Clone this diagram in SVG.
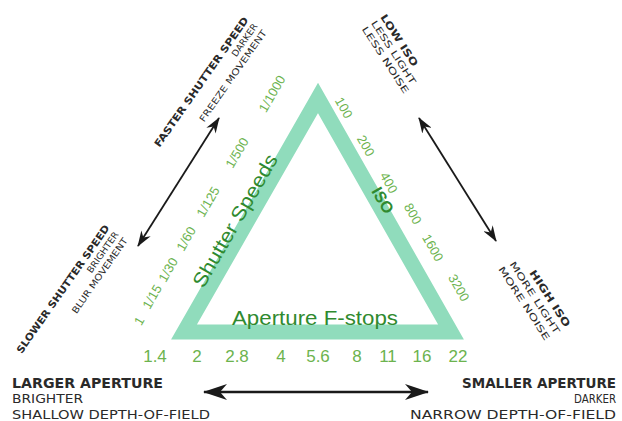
<svg xmlns="http://www.w3.org/2000/svg" width="622" height="421" viewBox="0 0 622 421">
<defs>
<marker id="big" viewBox="0 0 24 16" refX="23" refY="8" markerWidth="24" markerHeight="16" markerUnits="userSpaceOnUse" orient="auto-start-reverse">
<path d="M24,8 L0,0 L7,8 L0,16 Z" fill="#1a1a1a"/>
</marker>
<marker id="small" viewBox="0 0 16 11" refX="15" refY="5.5" markerWidth="16" markerHeight="11" markerUnits="userSpaceOnUse" orient="auto-start-reverse">
<path d="M16,5.5 L0,0 L5,5.5 L0,11 Z" fill="#1a1a1a"/>
</marker>
<style>
.lbl{font-family:"DejaVu Sans Condensed","Liberation Sans Narrow",sans-serif;fill:#2a2a2a;}
.b{font-weight:bold;}
.num{font-family:"Liberation Sans","DejaVu Sans",sans-serif;fill:#6cb34e;}
.ttl{font-family:"Liberation Sans","DejaVu Sans",sans-serif;fill:#2f8a2f;}
.arr{stroke:#1a1a1a;fill:none;}
</style>
</defs>
<rect width="622" height="421" fill="#ffffff"/>

<g id="triangle">
<polygon points="318,98 184,332 451,332" fill="none" stroke="#90dcbc" stroke-width="15" stroke-linejoin="miter"/>
</g>

<g id="connectors">
<line class="arr" x1="204" y1="392" x2="428" y2="392" stroke-width="2.5" marker-start="url(#big)" marker-end="url(#big)"/>
<line class="arr" x1="138" y1="246" x2="219" y2="118" stroke-width="1.8" marker-start="url(#small)" marker-end="url(#small)"/>
<line class="arr" x1="419" y1="118" x2="496" y2="241" stroke-width="1.8" marker-start="url(#small)" marker-end="url(#small)"/>
</g>

<g id="aperture">
<text class="ttl" x="315" y="325" font-size="21" text-anchor="middle" textLength="166" lengthAdjust="spacingAndGlyphs">Aperture F-stops</text>
<g class="num" font-size="17" text-anchor="middle">
<text x="155" y="362">1.4</text>
<text x="197" y="362">2</text>
<text x="237" y="362">2.8</text>
<text x="281" y="362">4</text>
<text x="318" y="362">5.6</text>
<text x="357" y="362">8</text>
<text x="388" y="362">11</text>
<text x="422" y="362">16</text>
<text x="458" y="362">22</text>
</g>
</g>

<g id="shutter">
<text class="ttl" transform="translate(241,224) rotate(-60)" font-size="20" text-anchor="middle" textLength="150" lengthAdjust="spacingAndGlyphs">Shutter Speeds</text>
<g class="num" font-size="13" text-anchor="middle">
<text transform="translate(143,323) rotate(-60)">1</text>
<text transform="translate(156,299) rotate(-60)">1/15</text>
<text transform="translate(172,272) rotate(-60)">1/30</text>
<text transform="translate(190,241) rotate(-60)">1/60</text>
<text transform="translate(212,204) rotate(-60)">1/125</text>
<text transform="translate(241,155) rotate(-60)">1/500</text>
<text transform="translate(276,96) rotate(-60)">1/1000</text>
</g>
</g>

<g id="iso">
<text class="ttl b" transform="translate(378,203) rotate(60)" font-size="16" text-anchor="middle">ISO</text>
<g class="num" font-size="13" text-anchor="middle">
<text transform="translate(340,110) rotate(60)">100</text>
<text transform="translate(362,148) rotate(60)">200</text>
<text transform="translate(385,185) rotate(60)">400</text>
<text transform="translate(409,216) rotate(60)">800</text>
<text transform="translate(429,250) rotate(60)">1600</text>
<text transform="translate(455,290) rotate(60)">3200</text>
</g>
</g>

<g id="faster" class="lbl" transform="translate(249,20) rotate(-55)" text-anchor="end">
<text class="b" x="0" y="0" font-size="10" textLength="156" lengthAdjust="spacingAndGlyphs">FASTER SHUTTER SPEED</text>
<text x="0" y="11" font-size="9" textLength="38" lengthAdjust="spacingAndGlyphs">DARKER</text>
<text x="0" y="22" font-size="9" textLength="110" lengthAdjust="spacingAndGlyphs">FREEZE MOVEMENT</text>
</g>

<g id="slower" class="lbl" transform="translate(110,228) rotate(-55)" text-anchor="end">
<text class="b" x="0" y="0" font-size="10" textLength="154" lengthAdjust="spacingAndGlyphs">SLOWER SHUTTER SPEED</text>
<text x="0" y="11" font-size="9" textLength="48" lengthAdjust="spacingAndGlyphs">BRIGHTER</text>
<text x="0" y="22" font-size="9" textLength="90" lengthAdjust="spacingAndGlyphs">BLUR MOVEMENT</text>
</g>

<g id="lowiso" class="lbl" transform="translate(380,17) rotate(57)">
<text class="b" x="0" y="0" font-size="10" textLength="60" lengthAdjust="spacingAndGlyphs">LOW ISO</text>
<text x="0" y="11" font-size="9" textLength="74" lengthAdjust="spacingAndGlyphs">LESS LIGHT</text>
<text x="0" y="22" font-size="9" textLength="78" lengthAdjust="spacingAndGlyphs">LESS NOISE</text>
</g>

<g id="highiso" class="lbl" transform="translate(565,328) rotate(57)" text-anchor="end">
<text class="b" x="0" y="0" font-size="10" textLength="66" lengthAdjust="spacingAndGlyphs">HIGH ISO</text>
<text x="0" y="12" font-size="9" textLength="84" lengthAdjust="spacingAndGlyphs">MORE LIGHT</text>
<text x="0" y="24" font-size="9" textLength="86" lengthAdjust="spacingAndGlyphs">MORE NOISE</text>
</g>

<g id="larger" class="lbl">
<text class="b" x="12" y="388" font-size="14" textLength="151" lengthAdjust="spacingAndGlyphs">LARGER APERTURE</text>
<text x="12" y="403" font-size="13" textLength="71" lengthAdjust="spacingAndGlyphs">BRIGHTER</text>
<text x="12" y="419" font-size="13" textLength="198" lengthAdjust="spacingAndGlyphs">SHALLOW DEPTH-OF-FIELD</text>
</g>

<g id="smaller" class="lbl" text-anchor="end">
<text class="b" x="616" y="388" font-size="14" textLength="154" lengthAdjust="spacingAndGlyphs">SMALLER APERTURE</text>
<text x="616" y="403" font-size="13" textLength="42" lengthAdjust="spacingAndGlyphs">DARKER</text>
<text x="616" y="419" font-size="13" textLength="206" lengthAdjust="spacingAndGlyphs">NARROW DEPTH-OF-FIELD</text>
</g>
</svg>
